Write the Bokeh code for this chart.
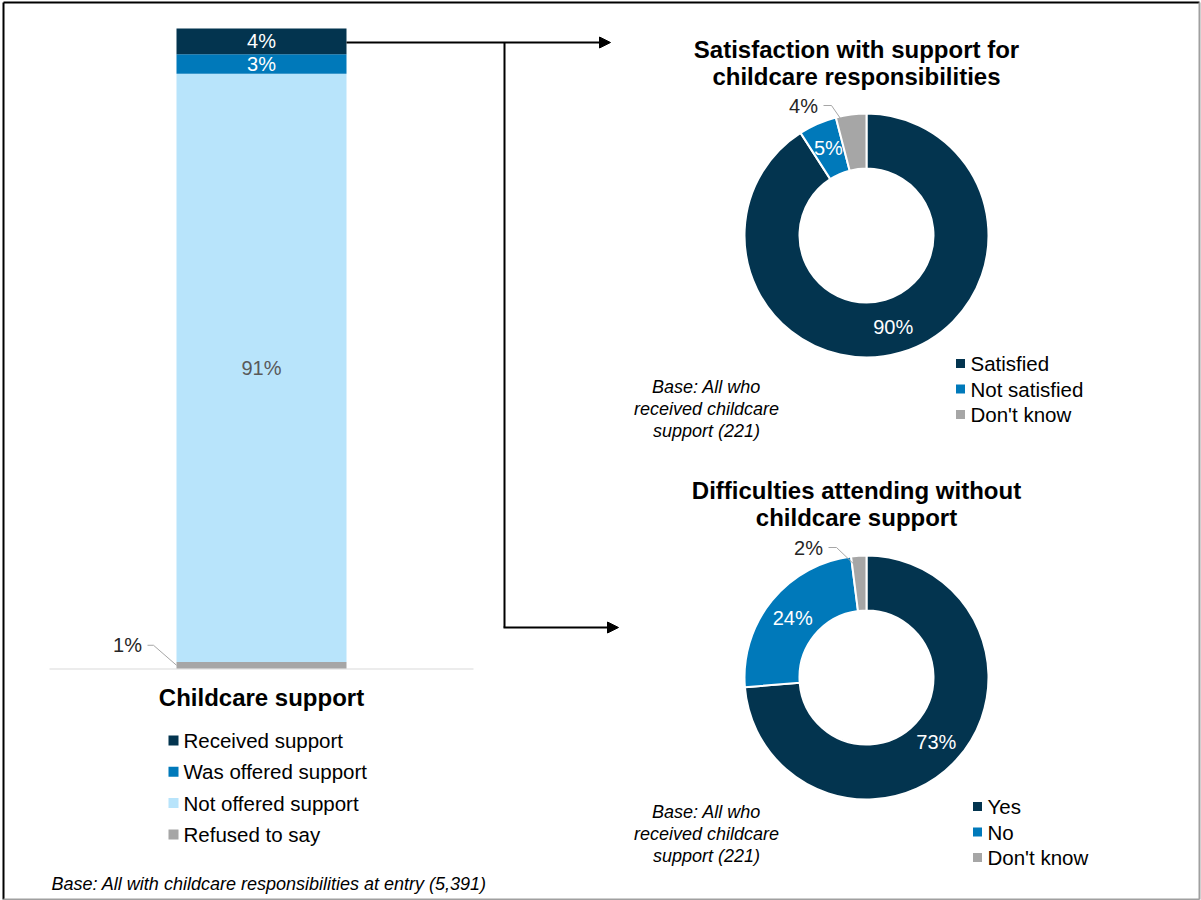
import math
from bokeh.plotting import figure
from bokeh.models import Range1d, Arrow, NormalHead
from bokeh.core.properties import value
from bokeh.embed import file_html
from bokeh.resources import INLINE

# ---------------- data ----------------
bar_title = "Childcare support"
bar_categories = ["Received support", "Was offered support", "Not offered support", "Refused to say"]
bar_values = [4, 3, 91, 1]
bar_colors = ["#03344F", "#0079BA", "#B8E4FB", "#A6A6A6"]
bar_base = "Base: All with childcare responsibilities at entry (5,391)"

sat_title = ["Satisfaction with support for", "childcare responsibilities"]
sat_categories = ["Satisfied", "Not satisfied", "Don't know"]
sat_values = [90, 5, 4]

diff_title = ["Difficulties attending without", "childcare support"]
diff_categories = ["Yes", "No", "Don't know"]
diff_values = [73, 24, 2]

donut_colors = ["#03344F", "#0079BA", "#A6A6A6"]
donut_base = ["Base: All who", "received childcare", "support (221)"]

# ---------------- layout ----------------
W, H = 1201, 900
FONT = value("Liberation Sans")


def Y(py):
    return H - py


p = figure(width=W, height=H, x_range=Range1d(0, W), y_range=Range1d(0, H),
           output_backend="svg", toolbar_location=None, x_axis_type=None, y_axis_type=None,
           min_border=0, outline_line_color=None, background_fill_color="white")
p.xgrid.visible = False
p.ygrid.visible = False


def T(x, y, text, size, color="#000000", align="center", style="normal"):
    p.text(x=[x], y=[Y(y)], text=[text], text_align=align, text_baseline="middle",
           text_font=FONT, text_font_size=value(f"{size}px"), text_color=color,
           text_font_style=style)


# frame
p.line([3, 1199], [Y(2), Y(2)], line_color="black", line_width=2)
p.line([3, 3], [Y(2), Y(899)], line_color="black", line_width=2)
p.line([1199, 1199], [Y(2), Y(899)], line_color="#A0A0A0", line_width=2)
p.line([3, 1199], [Y(899), Y(899)], line_color="#A0A0A0", line_width=2)

# ---------------- stacked bar ----------------
bar_left, bar_right = 176, 346
bar_cx = (bar_left + bar_right) / 2
bar_bottom_px = 668
px_per = 640 / sum(bar_values)

p.line([49, 473], [Y(bar_bottom_px + 0.5), Y(bar_bottom_px + 0.5)], line_color="#D9D9D9", line_width=1)

cum = 0.0
seg = {}
for cat, v, c in reversed(list(zip(bar_categories, bar_values, bar_colors))):
    b = bar_bottom_px - cum * px_per
    t = bar_bottom_px - (cum + v) * px_per
    p.quad(left=[bar_left], right=[bar_right], bottom=[Y(b)], top=[Y(t)],
           fill_color=c, line_color=None)
    seg[cat] = ((b + t) / 2, v)
    cum += v

label_colors = {"Received support": "#FFFFFF", "Was offered support": "#FFFFFF",
                "Not offered support": "#595959"}
for cat, (mid, v) in seg.items():
    if cat in label_colors:
        T(bar_cx, mid, f"{v}%", 20, label_colors[cat])
    else:
        # outside label with leader
        ly = mid - 20
        T(bar_left - 49, ly, f"{v}%", 20, "#262626")
        p.line([bar_left - 29, bar_left - 23, bar_left], [Y(ly), Y(ly), Y(mid)],
               line_color="#A6A6A6", line_width=1)

T(bar_cx, 697, bar_title, 24, "#000000", style="bold")
for i, (cat, c) in enumerate(zip(bar_categories, bar_colors)):
    ry = 740 + i * 31.3
    p.rect(x=[173], y=[Y(ry)], width=10, height=10, fill_color=c, line_color=None)
    T(183, ry, cat, 20.5, "#000000", align="left")
T(51, 883, bar_base, 18, "#000000", align="left", style="italic")

# ---------------- arrows ----------------
top_y = 42
p.add_layout(Arrow(end=NormalHead(size=11, fill_color="black", line_color="black"),
                   x_start=bar_right, y_start=Y(top_y), x_end=610, y_end=Y(top_y),
                   line_color="black", line_width=2))
p.line([504, 504], [Y(top_y), Y(627)], line_color="black", line_width=2)
p.add_layout(Arrow(end=NormalHead(size=11, fill_color="black", line_color="black"),
                   x_start=503, y_start=Y(627), x_end=618, y_end=Y(627),
                   line_color="black", line_width=2))


# ---------------- donuts ----------------
def donut(cx, cy, values, cats, title, title_y, legend_x, legend_y, base_y, out_dx):
    total = float(sum(values))
    r_out, r_in = 122, 67
    c0 = 0.0
    mids = []
    for v, col in zip(values, donut_colors):
        c1 = c0 + v / total
        p.annular_wedge(x=[cx], y=[Y(cy)], inner_radius=r_in, outer_radius=r_out,
                        start_angle=math.pi / 2 - 2 * math.pi * c0,
                        end_angle=math.pi / 2 - 2 * math.pi * c1,
                        direction="clock", fill_color=col, line_color="white", line_width=2)
        mids.append((c0, c1))
        c0 = c1
    # labels
    for i, (v, (a0, a1)) in enumerate(zip(values, mids)):
        if v >= 5:
            a = 2 * math.pi * (a0 + a1) / 2
            lx = cx + 95 * math.sin(a)
            ly = cy - 95 * math.cos(a)
            T(lx, ly, f"{v}%", 20, "#FFFFFF")
        else:
            a = 2 * math.pi * (a0 + 0.25 * (a1 - a0))
            ex = cx + 112 * math.sin(a)
            ey = cy - 112 * math.cos(a)
            lx, ly = cx + out_dx, cy - 130
            T(lx, ly, f"{v}%", 20, "#262626")
            p.line([lx + 20, lx + 28, ex], [Y(ly), Y(ly), Y(ey)],
                   line_color="#A6A6A6", line_width=1)
    # title
    for j, line in enumerate(title):
        T(856, title_y + j * 27, line, 24, "#000000", style="bold")
    # legend
    for j, (cat, col) in enumerate(zip(cats, donut_colors)):
        ry = legend_y + j * 25.5
        p.rect(x=[legend_x], y=[Y(ry)], width=9, height=9, fill_color=col, line_color=None)
        T(legend_x + 10, ry, cat, 20.5, "#000000", align="left")
    # base
    for j, line in enumerate(donut_base):
        T(706, base_y + j * 22, line, 18, "#000000", style="italic")


donut(866, 235, sat_values, sat_categories, sat_title, 49, 960, 363, 386, -63)
donut(866, 677, diff_values, diff_categories, diff_title, 490, 977, 806, 811, -58)

open("out.html", "w").write(file_html(p, INLINE))
